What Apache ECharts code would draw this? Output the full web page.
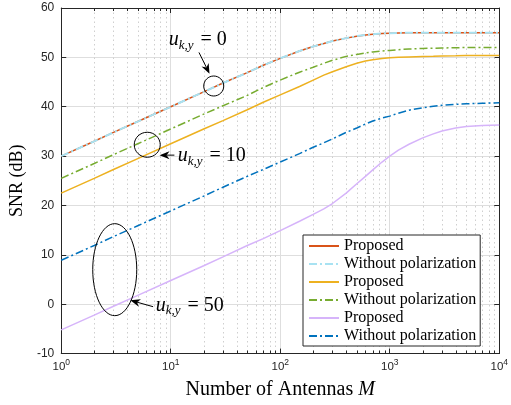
<!DOCTYPE html>
<html lang="en">
<head>
<meta charset="UTF-8">
<title>SNR vs Number of Antennas</title>
<script src="https://cdn.jsdelivr.net/npm/echarts@6/dist/echarts.min.js"></script>
<style>
  html, body { margin: 0; padding: 0; background: #fff; }
  #chart { width: 511px; height: 405px; }
</style>
</head>
<body>
<div id="chart"></div>
<script>
// number of antennas M (log x axis)
var antennas = [1, 2, 3, 5, 10, 20, 30, 50, 70, 100, 150, 200, 250, 300, 400, 500, 600, 700, 850, 1000, 1200, 1500, 2000, 2500, 3000, 4000, 5000, 7000, 10000];

// SNR (dB)
var proposedU0 = [30, 33, 34.8, 37, 40, 43, 44.8, 46.9, 48.4, 49.8, 51.3, 52.2, 52.8, 53.3, 53.9, 54.3, 54.55, 54.7, 54.85, 54.9, 54.95, 55, 55, 55, 55, 55, 55, 55, 55];
var noPolU0 = [30, 33, 34.8, 37, 40, 43, 44.8, 46.9, 48.4, 49.8, 51.3, 52.2, 52.8, 53.3, 53.9, 54.3, 54.55, 54.7, 54.85, 54.9, 54.95, 55, 55, 55, 55, 55, 55, 55, 55];
var proposedU10 = [22.5, 25.5, 27.3, 29.5, 32.5, 35.5, 37.2, 39.4, 40.9, 42.4, 44.1, 45.4, 46.4, 47.1, 48.1, 48.8, 49.25, 49.5, 49.75, 49.9, 50, 50.1, 50.2, 50.25, 50.3, 50.35, 50.4, 50.4, 50.4];
var noPolU10 = [25.5, 28.5, 30.3, 32.5, 35.5, 38.5, 40.2, 42.3, 43.9, 45.4, 47, 48, 48.8, 49.4, 50.2, 50.6, 50.9, 51.1, 51.3, 51.4, 51.55, 51.7, 51.8, 51.85, 51.9, 51.95, 52, 52, 52];
var proposedU50 = [-5.2, -2.2, -0.4, 1.8, 4.8, 7.8, 9.6, 11.9, 13.3, 14.9, 16.8, 18.2, 19.3, 20.4, 22.5, 24.4, 25.9, 27.2, 28.8, 30, 31.2, 32.4, 33.7, 34.5, 35.1, 35.7, 36, 36.2, 36.3];
var noPolU50 = [8.9, 11.9, 13.7, 15.9, 18.9, 21.9, 23.7, 25.9, 27.3, 28.8, 30.5, 31.8, 32.7, 33.5, 34.8, 35.7, 36.5, 37.1, 37.7, 38.1, 38.7, 39.3, 39.8, 40.1, 40.3, 40.5, 40.6, 40.7, 40.8];

// legend labels (series keyed by u_{k,y})
var legendNames = ['Proposed|0', 'Without polarization|0', 'Proposed|10', 'Without polarization|10', 'Proposed|50', 'Without polarization|50'];

// minor x ticks 2..9 per decade
var decades = [1, 10, 100, 1000];
var minorTicks = [];
decades.forEach(function (d) {
    for (var k = 2; k <= 9; k++) minorTicks.push([d * k, -10]);
});

// annotations (data coordinates)
var markCenters = [[24.7, 44.2], [6.1, 32.3], [3.08, 7.0]];
var markRadii = [[10, 10], [13, 12.5], [22, 46]];
var arrowTails = [[18.1, 51.0], [10.8, 30.2], [6.9, -0.5]];
var arrowTips = [[22.6, 46.7], [7.9, 30.2], [4.27, 0.8]];
var labelAnchors = [[9.6, 53.5], [11.6, 30.0], [7.3, -0.3]];
var labelValues = ['0', '10', '50'];

var serif = '"Liberation Serif", "Times New Roman", serif';
var sans = '"Liberation Sans", Arial, sans-serif';

function pairs(ys) {
    return antennas.map(function (m, i) { return [m, ys[i]]; });
}

function lineSeries(name, ys, color, width, dash, z) {
    return {
        name: name,
        type: 'line',
        data: pairs(ys),
        showSymbol: false,
        symbol: 'none',
        z: z,
        lineStyle: { color: color, width: width, type: dash || 'solid' },
        itemStyle: { color: color }
    };
}

function renderMinor(params, api) {
    var cs = params.coordSys;
    var x = Math.round(api.coord([api.value(0), 0])[0]) + 0.5;
    var top = cs.y, bottom = cs.y + cs.height;
    return {
        type: 'group',
        children: [
            { type: 'line', shape: { x1: x, y1: top, x2: x, y2: bottom }, style: { stroke: '#cfcfcf', lineWidth: 1, lineDash: [1.5, 3] } },
            { type: 'line', shape: { x1: x, y1: bottom, x2: x, y2: bottom - 3 }, style: { stroke: '#262626', lineWidth: 1 } },
            { type: 'line', shape: { x1: x, y1: top, x2: x, y2: top + 3 }, style: { stroke: '#262626', lineWidth: 1 } }
        ]
    };
}

function renderNotes(params, api) {
    var i = params.dataIndex;
    var c = api.coord([api.value(0), api.value(1)]);
    var tail = api.coord(arrowTails[i]);
    var tip = api.coord(arrowTips[i]);
    var lab = api.coord(labelAnchors[i]);
    var dx = tip[0] - tail[0], dy = tip[1] - tail[1];
    var len = Math.sqrt(dx * dx + dy * dy);
    var ux = dx / len, uy = dy / len, nx = -uy, ny = ux;
    var head = 10, half = 4, notch = 7;
    var bx = tip[0] - ux * head, by = tip[1] - uy * head;
    var nb = [tip[0] - ux * notch, tip[1] - uy * notch];
    return {
        type: 'group',
        children: [
            { type: 'ellipse', shape: { cx: c[0], cy: c[1], rx: markRadii[i][0], ry: markRadii[i][1] }, style: { fill: 'none', stroke: '#000', lineWidth: 1 } },
            { type: 'line', shape: { x1: tail[0], y1: tail[1], x2: nb[0], y2: nb[1] }, style: { stroke: '#000', lineWidth: 1 } },
            { type: 'polygon', shape: { points: [tip, [bx + nx * half, by + ny * half], nb, [bx - nx * half, by - ny * half]] }, style: { fill: '#000' } },
            {
                type: 'text', x: lab[0], y: lab[1],
                style: {
                    text: '{u|u}{s|k,y}{e| = ' + labelValues[i] + '}',
                    align: 'left', verticalAlign: 'middle',
                    rich: {
                        u: { fontFamily: serif, fontStyle: 'italic', fontSize: 20, lineHeight: 20, fill: '#000' },
                        s: { fontFamily: serif, fontStyle: 'italic', fontSize: 13, lineHeight: 13, padding: [10, 2, 0, 0], fill: '#000' },
                        e: { fontFamily: serif, fontSize: 20, lineHeight: 20, fill: '#000' }
                    }
                }
            }
        ]
    };
}

var chart = echarts.init(document.getElementById('chart'), null, { renderer: 'canvas' });

var option = {
    animation: false,
    backgroundColor: '#fff',
    grid: { left: 56, right: 9, top: 8, bottom: 45 },
    legend: {
        data: legendNames,
        orient: 'vertical',
        left: 303, top: 235,
        padding: [3, 4, 2, 5],
        itemWidth: 30, itemHeight: 10, itemGap: 2,
        backgroundColor: '#fff',
        borderColor: '#262626', borderWidth: 1,
        itemStyle: { color: 'rgba(0,0,0,0)', borderColor: 'rgba(0,0,0,0)', borderWidth: 0 },
        formatter: function (n) { return n.split('|')[0]; },
        textStyle: { fontFamily: serif, fontSize: 16, lineHeight: 16, color: '#000' }
    },
    xAxis: [{
        type: 'log', logBase: 10, min: 1, max: 10000,
        name: 'Number of Antennas {i|M}',
        nameLocation: 'middle', nameGap: 24,
        nameTextStyle: {
            fontFamily: serif, fontSize: 20, color: '#000',
            rich: { i: { fontFamily: serif, fontSize: 20, fontStyle: 'italic', color: '#000' } }
        },
        axisLine: { onZero: false, lineStyle: { color: '#262626', width: 1 } },
        axisTick: { inside: true, length: 5, lineStyle: { color: '#262626' } },
        axisLabel: {
            margin: 7,
            formatter: function (v) { return '{b|10}{p|' + Math.round(Math.log10(v)) + '}'; },
            rich: {
                b: { fontFamily: sans, fontSize: 11.5, color: '#262626', lineHeight: 12 },
                p: { fontFamily: sans, fontSize: 8.5, color: '#262626', lineHeight: 9, padding: [0, 0, 8, 0] }
            }
        },
        splitLine: { show: true, lineStyle: { color: '#dedede', width: 1 } }
    }, {
        type: 'log', logBase: 10, min: 1, max: 10000, position: 'top',
        axisLine: { onZero: false, lineStyle: { color: '#262626', width: 1 } },
        axisTick: { inside: true, length: 5, lineStyle: { color: '#262626' } },
        axisLabel: { show: false },
        splitLine: { show: false }
    }],
    yAxis: [{
        type: 'value', min: -10, max: 60, interval: 10,
        name: 'SNR (dB)',
        nameLocation: 'middle', nameGap: 27,
        nameTextStyle: { fontFamily: serif, fontSize: 18, color: '#000' },
        axisLine: { show: true, onZero: false, lineStyle: { color: '#262626', width: 1 } },
        axisTick: { show: true, inside: true, length: 5, lineStyle: { color: '#262626' } },
        axisLabel: { fontFamily: sans, fontSize: 12, color: '#262626', margin: 7 },
        splitLine: { show: true, lineStyle: { color: '#dedede', width: 1 } }
    }, {
        type: 'value', min: -10, max: 60, interval: 10, position: 'right',
        axisLine: { show: true, onZero: false, lineStyle: { color: '#262626', width: 1 } },
        axisTick: { show: true, inside: true, length: 5, lineStyle: { color: '#262626' } },
        axisLabel: { show: false },
        splitLine: { show: false }
    }],
    series: [
        {
            name: 'minor', type: 'custom', silent: true, z: 1,
            data: minorTicks, renderItem: renderMinor
        },
        lineSeries(legendNames[0], proposedU0, '#D95319', 1.5, null, 3),
        lineSeries(legendNames[1], noPolU0, '#A8E2F2', 2, [8, 3, 2, 3], 4),
        lineSeries(legendNames[2], proposedU10, '#EDB120', 1.5, null, 3),
        lineSeries(legendNames[3], noPolU10, '#77AC30', 1.5, [8, 3, 2, 3], 3),
        lineSeries(legendNames[4], proposedU50, '#D6B4FA', 1.5, null, 3),
        lineSeries(legendNames[5], noPolU50, '#0072BD', 1.5, [8, 3, 2, 3], 3),
        {
            name: 'notes', type: 'custom', silent: true, z: 6, clip: false,
            data: markCenters, renderItem: renderNotes
        }
    ]
};

chart.setOption(option);
</script>
</body>
</html>
